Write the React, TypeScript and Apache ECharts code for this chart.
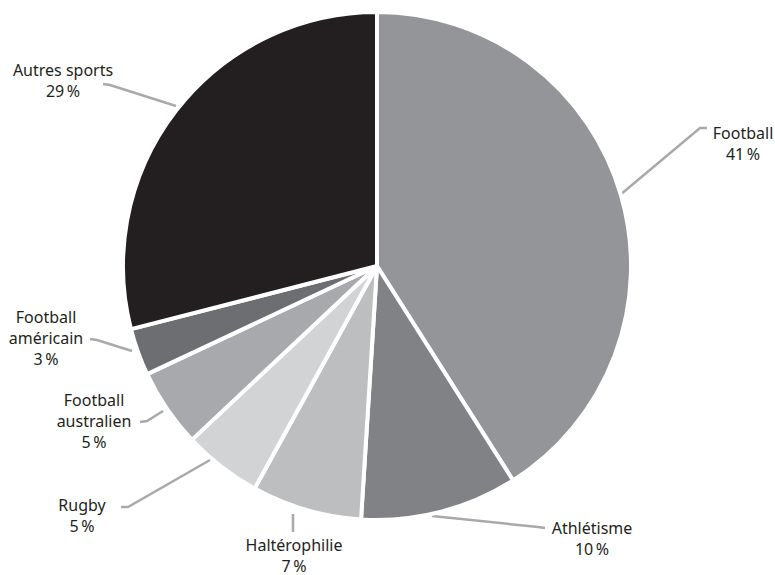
import React, { useEffect, useRef } from "react";
import * as echarts from "echarts";

const categories = [
  "Football",
  "Athlétisme",
  "Haltérophilie",
  "Rugby",
  "Football\naustralien",
  "Football\naméricain",
  "Autres sports",
];
const shares = [41, 10, 7, 5, 5, 3, 29];
const colors = ["#939598", "#808285", "#bcbec0", "#d1d3d4", "#a7a9ac", "#6d6e71", "#231f20"];

// label placement (layout only)
const labelPos: [number, number][] = [
  [743, 143],
  [592, 538],
  [294, 555],
  [82, 515],
  [94, 421],
  [46, 338],
  [63, 80],
];
const linePts: [number, number][][] = [
  [[620, 195], [700, 128], [707, 128]],
  [[432, 516], [538, 527], [545, 528]],
  [[293, 514], [293, 523], [293, 532]],
  [[210, 460], [128, 507], [121, 507]],
  [[163, 411], [147, 421], [140, 422]],
  [[132, 351], [97, 340], [90, 339]],
  [[176, 106], [110, 85], [103, 84]],
];

export default function App() {
  const ref = useRef<HTMLDivElement>(null);
  useEffect(() => {
    if (!ref.current) return;
    const chart = echarts.init(ref.current, undefined, { renderer: "svg" });
    chart.setOption({
      animation: false,
      backgroundColor: "#ffffff",
      series: [
        {
          type: "pie",
          center: [377, 266],
          radius: [0, 254],
          startAngle: 90,
          clockwise: true,
          data: categories.map((name, i) => ({
            name,
            value: shares[i],
            itemStyle: { color: colors[i] },
          })),
          itemStyle: { borderColor: "#ffffff", borderWidth: 4 },
          label: {
            show: true,
            formatter: "{b}\n{c}\u2009%",
            color: "#231f20",
            fontFamily: "Noto Sans",
            fontSize: 16,
            lineHeight: 21,
            align: "center",
          },
          labelLine: {
            show: true,
            smooth: false,
            lineStyle: { color: "#a7a9ac", width: 2.5 },
          },
          labelLayout: (params: any) => {
            const i = params.dataIndex;
            return {
              x: labelPos[i][0],
              y: labelPos[i][1],
              align: "center",
              verticalAlign: "middle",
              labelLinePoints: linePts[i],
            };
          },
          emphasis: { disabled: true },
        },
      ],
    });
    return () => chart.dispose();
  }, []);
  return (
    <div
      ref={ref}
      style={{ position: "fixed", left: 0, top: 0, width: 775, height: 575 }}
    />
  );
}
